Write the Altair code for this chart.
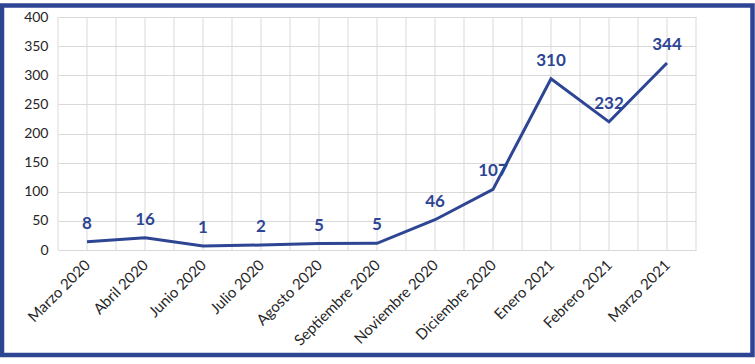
import json
import altair as alt
import pandas as pd

months = ["Marzo 2020", "Abril 2020", "Junio 2020", "Julio 2020", "Agosto 2020",
          "Septiembre 2020", "Noviembre 2020", "Diciembre 2020", "Enero 2021",
          "Febrero 2021", "Marzo 2021"]
line_values = [14, 21, 7, 8.5, 11, 11.5, 52, 104, 294, 220, 321]
label_texts = ["8", "16", "1", "2", "5", "5", "46", "107", "310", "232", "344"]
y_ticks = [0, 50, 100, 150, 200, 250, 300, 350, 400]

df = pd.DataFrame({
    "idx": list(range(len(months))),
    "month": months,
    "value": line_values,
    "label": label_texts,
})

BLUE = "#2E4594"
GRID = "#D9D9D9"
FONT = "Lato"

x_vals = [i * 0.5 - 0.5 for i in range(2 * len(months) + 1)]
grid_df = pd.DataFrame({"g": x_vals})
names_js = json.dumps(months)
label_expr = f"abs(datum.value % 1) < 0.01 ? {names_js}[round(datum.value)] : ''"

x_axis = alt.Axis(
    values=list(range(len(months))), labelExpr=label_expr, title=None, grid=False,
    ticks=False, domain=True, domainColor=GRID, labelAngle=-45,
    labelAlign="right", labelBaseline="middle", labelPadding=12, labelFont=FONT,
    labelFontSize=15, labelColor="#262626", labelOverlap=False, labelBound=False,
    labelFlush=False,
)
y_axis = alt.Axis(
    values=y_ticks, title=None, grid=True, gridColor=GRID, gridWidth=1,
    ticks=False, domain=False, labelPadding=10, labelFont=FONT, labelFontSize=14,
    labelColor="#262626", labelOverlap=False,
)
x_scale = alt.Scale(domain=[-0.5, len(months) - 0.5], nice=False, zero=False)
y_scale = alt.Scale(domain=[0, 400], nice=False)

x_enc = alt.X("idx:Q", scale=x_scale, axis=x_axis)
y_enc = alt.Y("value:Q", scale=y_scale, axis=y_axis)

vgrid = alt.Chart(grid_df).mark_rule(color=GRID, strokeWidth=1).encode(
    x=alt.X("g:Q", scale=x_scale, axis=x_axis)
)

line = alt.Chart(df).mark_line(color=BLUE, strokeWidth=3).encode(x=x_enc, y=y_enc)

labels = alt.Chart(df).mark_text(
    color=BLUE, font=FONT, fontSize=17, fontWeight="bold", dy=-18, baseline="middle"
).encode(x=x_enc, y=y_enc, text="label:N")

frame = alt.Chart(pd.DataFrame({"a": [0]})).mark_rect(
    fill="transparent", stroke=BLUE, strokeWidth=4.5
).encode(
    x=alt.value(-56), x2=alt.value(694.5), y=alt.value(-11.5), y2=alt.value(338)
)

chart = alt.layer(vgrid, line, labels, frame).properties(
    width=638, height=233,
    padding={"left": 58, "top": 17, "right": 59, "bottom": 114},
    autosize=alt.AutoSizeParams(type="none"),
    background="white",
).configure_view(stroke=None)

chart.save("out.html", embed_options={"renderer": "svg", "actions": False})
